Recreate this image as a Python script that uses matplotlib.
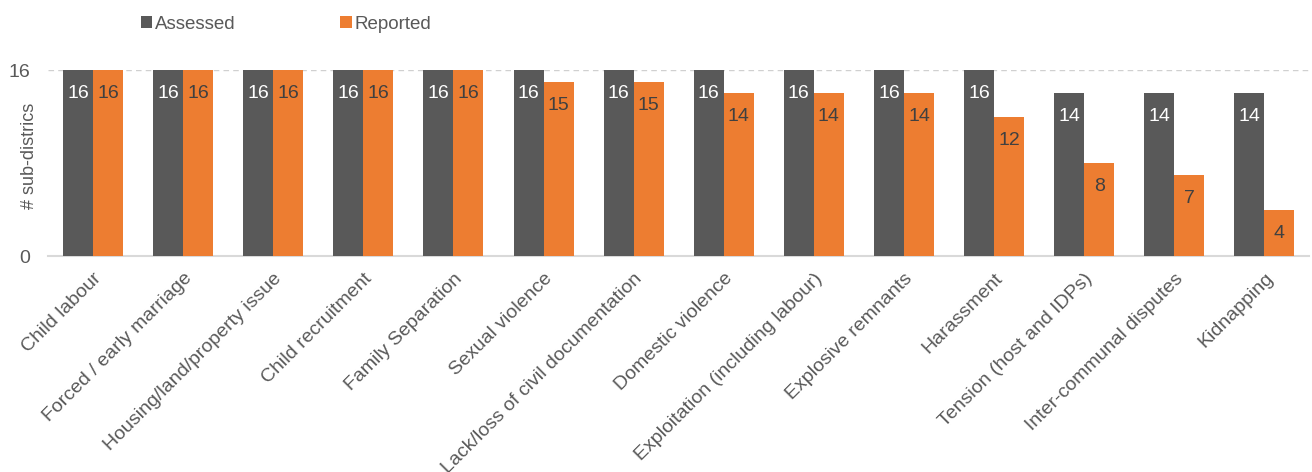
import numpy as np
import matplotlib
matplotlib.use("Agg")
import matplotlib.pyplot as plt

categories = [
    "Child labour", "Forced / early marriage", "Housing/land/property issue",
    "Child recruitment", "Family Separation", "Sexual violence",
    "Lack/loss of civil documentation", "Domestic violence",
    "Exploitation (including labour)", "Explosive remnants", "Harassment",
    "Tension (host and IDPs)", "Inter-communal disputes", "Kidnapping",
]
assessed = [16, 16, 16, 16, 16, 16, 16, 16, 16, 16, 16, 14, 14, 14]
reported = [16, 16, 16, 16, 16, 15, 15, 14, 14, 14, 12, 8, 7, 4]

DARK = "#595959"
ORANGE = "#ED7D31"
TEXT = "#595959"

plt.rcParams["font.family"] = ["Liberation Sans", "DejaVu Sans"]

fig = plt.figure(figsize=(13.12, 4.72), dpi=100)
ax = fig.add_axes([0.0366, 0.4576, 0.9614, 0.394])

x = np.arange(len(categories))
w = 1 / 3
b1 = ax.bar(x - w / 2, assessed, w, color=DARK, label="Assessed", zorder=3)
b2 = ax.bar(x + w / 2, reported, w, color=ORANGE, label="Reported", zorder=3)

for rect, v in zip(b1, assessed):
    ax.text(rect.get_x() + rect.get_width() / 2, v - 1.3, str(v), ha="center", va="top",
            color="white", fontsize=14, zorder=4)
for rect, v in zip(b2, reported):
    ax.text(rect.get_x() + rect.get_width() / 2, v - 1.3, str(v), ha="center", va="top",
            color="#404040", fontsize=14, zorder=4)

ax.set_xlim(-0.5, len(categories) - 0.5)
ax.set_ylim(0, 16)
ax.set_yticks([0, 16])
ax.axhline(16, color="#d0d0d0", linestyle=(0, (4, 3)), linewidth=1, zorder=1)
ax.set_xticks(x)
ax.set_xticklabels(categories, rotation=45, ha="right", rotation_mode="anchor",
                   fontsize=14, color=TEXT)
ax.tick_params(axis="x", length=0, pad=10)
ax.tick_params(axis="y", length=0, labelsize=14, labelcolor=TEXT, pad=13)
ax.set_ylabel("# sub-districs", color=TEXT, fontsize=13)
ax.yaxis.set_label_coords(-0.008, 0.54)

for s in ["top", "right", "left"]:
    ax.spines[s].set_visible(False)
ax.spines["bottom"].set_color("#d9d9d9")
ax.spines["bottom"].set_linewidth(1.5)

ax.legend(loc="lower left", bbox_to_anchor=(0.066, 1.15), ncol=2, frameon=False,
          fontsize=13.5, handlelength=0.6, handleheight=0.6, handletextpad=0.15,
          columnspacing=5.6, labelcolor=TEXT, borderpad=0)

fig.savefig("out.png", dpi=100)
